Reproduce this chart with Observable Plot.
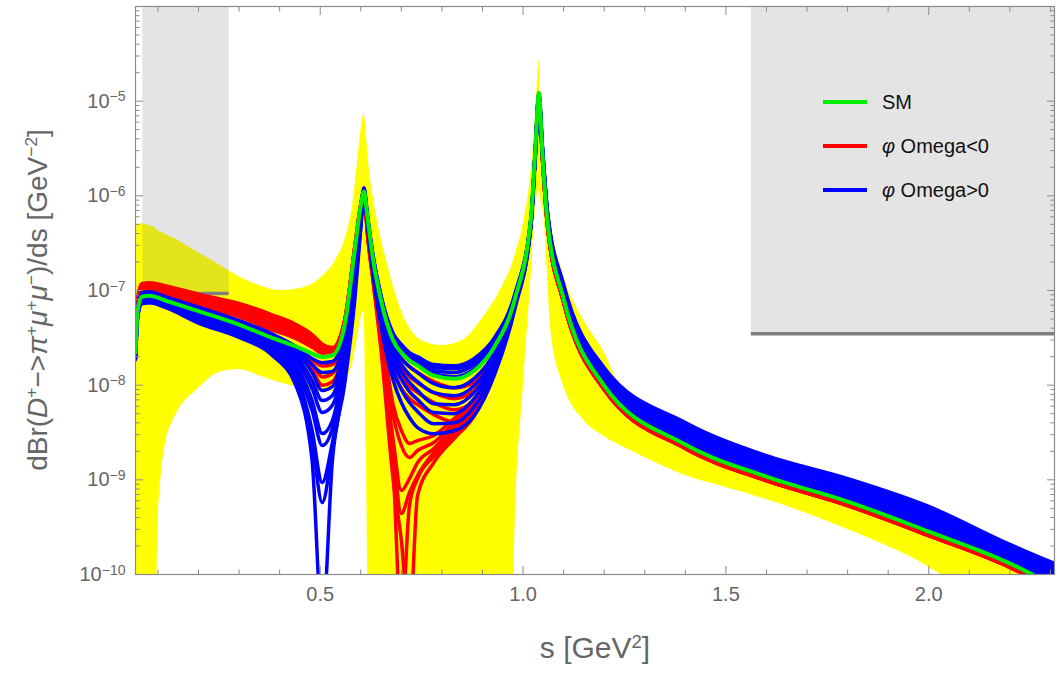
<!DOCTYPE html>
<html><head><meta charset="utf-8">
<script src="https://cdn.jsdelivr.net/npm/d3@7"></script>
<script src="https://cdn.jsdelivr.net/npm/@observablehq/plot@0.6"></script>
<style>
body{margin:0;background:#fff;}
#wrap{position:relative;width:1057px;height:673px;font-family:"Liberation Sans",Arial,sans-serif;overflow:hidden;}
.ytitle{position:absolute;left:38px;top:300px;transform:translate(-50%,-50%) rotate(-90deg);white-space:nowrap;font-size:28px;color:#666;}
.xtitle{position:absolute;left:595px;top:648px;transform:translate(-50%,-50%);white-space:nowrap;font-size:30px;color:#666;}
.ytitle sup,.xtitle sup{font-size:0.62em;vertical-align:0.55em;line-height:0;}
.legend{position:absolute;left:823px;top:0;font-size:20px;color:#111;}
.legend .row{position:absolute;left:0;white-space:nowrap;height:0;}
.legend .sw{position:absolute;left:0;top:-2px;width:44px;height:4px;}
.legend .lb{position:absolute;left:59px;top:-12px;line-height:24px;}
</style></head><body><div id="wrap"></div>
<script>
// ---- s grid for the curves (GeV^2) ----
const sGrid = [0.0447,0.05,0.06,0.08,0.12,0.2,0.3,0.38,0.44,0.48,0.505,0.53,0.56,0.585,0.6,0.608,0.616,0.63,0.65,0.68,0.70,0.72,0.74,0.78,0.83,0.88,0.93,0.98,1.02,1.03,1.039,1.048,1.06,1.1,1.2,1.4,1.6,1.8,2.0,2.2,2.31];
// SM prediction
const smValues = [2.21e-8,6.1e-8,8.6e-8,8.8e-8,7.8e-8,6.06e-8,4.37e-8,3.18e-8,2.56e-8,2.16e-8,1.98e-8,2.06e-8,4.26e-8,2.64e-7,7.89e-7,1.11e-6,6.18e-7,2.17e-7,7.8e-8,2.96e-8,2.21e-8,1.82e-8,1.61e-8,1.26e-8,1.17e-8,1.43e-8,2.56e-8,8.2e-8,6.18e-7,3.0e-6,1.23e-5,2.66e-6,5.47e-7,8.2e-8,9.9e-9,2.36e-9,1.08e-9,5.9e-10,2.84e-10,1.31e-10,7.5e-11];
// phi_Omega < 0 curves
const redCurves = [
[2.32e-8,6.4e-8,9.0e-8,9.24e-8,8.19e-8,6.36e-8,4.59e-8,3.18e-8,2.38e-8,1.87e-8,1.59e-8,1.65e-8,3.68e-8,2.46e-7,7.7e-7,1.11e-6,6.03e-7,2.12e-7,7.43e-8,2.56e-8,1.91e-8,1.57e-8,1.36e-8,1.09e-8,9.4e-9,1.07e-8,2.32e-8,8.0e-8,6.03e-7,2.93e-6,1.2e-5,2.6e-6,5.34e-7,8.0e-8,9.66e-9,2.3e-9,1.05e-9,5.76e-10,2.77e-10,1.28e-10,7.3e-11],
[2.38e-8,6.56e-8,9.25e-8,9.47e-8,8.39e-8,6.52e-8,4.7e-8,3.26e-8,2.44e-8,1.69e-8,1.22e-8,1.33e-8,3.18e-8,2.34e-7,7.51e-7,1.11e-6,5.75e-7,2.07e-7,6.91e-8,2.21e-8,1.57e-8,1.23e-8,1.06e-8,8.33e-9,7.2e-9,8.79e-9,2.11e-8,7.81e-8,5.88e-7,2.86e-6,1.17e-5,2.53e-6,5.21e-7,7.81e-8,9.42e-9,2.25e-9,1.03e-9,5.62e-10,2.7e-10,1.25e-10,7.1e-11],
[2.43e-8,6.71e-8,9.46e-8,9.68e-8,8.58e-8,6.67e-8,4.81e-8,3.34e-8,2.5e-8,1.46e-8,1.0e-8,1.09e-8,2.75e-8,2.17e-7,7.34e-7,1.11e-6,5.48e-7,1.97e-7,6.42e-8,1.82e-8,1.23e-8,9.66e-9,8.36e-9,6.54e-9,5.5e-9,6.89e-9,1.91e-8,7.63e-8,5.82e-7,2.82e-6,1.16e-5,2.5e-6,5.15e-7,7.72e-8,9.32e-9,2.22e-9,1.02e-9,5.55e-10,2.67e-10,1.23e-10,7.06e-11],
[2.43e-8,6.89e-8,9.72e-8,9.94e-8,8.81e-8,6.85e-8,5.31e-8,3.86e-8,3.11e-8,2.51e-8,2.18e-8,2.27e-8,4.47e-8,2.71e-7,7.89e-7,1.11e-6,5.21e-7,1.92e-7,5.83e-8,1.43e-8,9.22e-9,7.23e-9,6.23e-9,4.88e-9,4.1e-9,5.41e-9,1.78e-8,7.44e-8,5.75e-7,2.79e-6,1.14e-5,2.47e-6,5.09e-7,7.63e-8,9.21e-9,2.19e-9,1.0e-9,5.49e-10,2.64e-10,1.22e-10,6.98e-11],
[2.5e-8,7.08e-8,9.98e-8,1.02e-7,9.28e-8,7.21e-8,5.59e-8,4.17e-8,3.28e-8,2.62e-8,2.3e-8,2.33e-8,4.58e-8,2.71e-7,7.89e-7,1.11e-6,4.96e-7,1.74e-7,4.57e-8,6.1e-9,3.32e-9,2.42e-9,2.6e-9,2.94e-9,4.44e-9,6.88e-9,1.73e-8,7.44e-8,5.67e-7,2.75e-6,1.13e-5,2.44e-6,5.02e-7,7.53e-8,9.09e-9,2.17e-9,9.91e-10,5.42e-10,2.61e-10,1.2e-10,6.9e-11],
[2.63e-8,7.41e-8,1.04e-7,1.07e-7,9.48e-8,7.54e-8,5.86e-8,4.36e-8,3.51e-8,2.76e-8,2.36e-8,2.33e-8,4.58e-8,2.77e-7,7.89e-7,1.11e-6,4.73e-7,1.62e-7,3.95e-8,4.78e-9,2.3e-9,1.72e-9,2.04e-9,2.48e-9,4.03e-9,6.4e-9,1.69e-8,7.27e-8,5.61e-7,2.72e-6,1.12e-5,2.41e-6,4.96e-7,7.44e-8,8.98e-9,2.14e-9,9.8e-10,5.35e-10,2.58e-10,1.19e-10,6.8e-11],
[2.69e-8,7.59e-8,1.07e-7,1.1e-7,9.98e-8,7.94e-8,6.29e-8,4.71e-8,3.69e-8,2.96e-8,2.47e-8,2.39e-8,4.69e-8,2.77e-7,8.09e-7,1.11e-6,4.51e-7,1.54e-7,3.33e-8,2.6e-9,7.71e-10,1.03e-9,1.52e-9,2.14e-9,3.66e-9,5.94e-9,1.65e-8,7.27e-8,5.61e-7,2.72e-6,1.12e-5,2.41e-6,4.96e-7,7.44e-8,8.98e-9,2.14e-9,9.8e-10,5.35e-10,2.58e-10,1.19e-10,6.8e-11],
[2.75e-8,7.81e-8,1.1e-7,1.13e-7,1.05e-7,8.3e-8,6.6e-8,4.93e-8,3.87e-8,3.11e-8,2.53e-8,2.45e-8,4.69e-8,2.77e-7,8.09e-7,1.14e-6,4.29e-7,1.43e-7,2.96e-8,2.04e-9,4.41e-10,7.34e-10,1.11e-9,1.94e-9,3.32e-9,5.52e-9,1.57e-8,7.08e-8,5.61e-7,2.72e-6,1.12e-5,2.41e-6,4.96e-7,7.44e-8,8.98e-9,2.14e-9,9.8e-10,5.35e-10,2.58e-10,1.19e-10,6.8e-11],
[2.89e-8,8.17e-8,1.15e-7,1.18e-7,1.07e-7,8.73e-8,6.95e-8,5.31e-8,4.17e-8,3.26e-8,2.65e-8,2.45e-8,4.81e-8,2.84e-7,8.09e-7,1.14e-6,4.08e-7,1.33e-7,2.62e-8,1.25e-9,3e-11,5.35e-10,1.03e-9,1.76e-9,3.01e-9,5.14e-9,1.53e-8,6.91e-8,5.61e-7,2.72e-6,1.12e-5,2.41e-6,4.96e-7,7.44e-8,8.98e-9,2.14e-9,9.8e-10,5.35e-10,2.58e-10,1.19e-10,6.8e-11],
[2.96e-8,8.36e-8,1.18e-7,1.21e-7,1.12e-7,9.15e-8,7.3e-8,5.57e-8,4.38e-8,3.43e-8,2.71e-8,2.5e-8,4.81e-8,2.84e-7,8.09e-7,1.14e-6,4.08e-7,1.27e-7,2.32e-8,9.8e-10,2.29e-10,3e-11,6.83e-10,1.52e-9,2.73e-9,4.78e-9,1.5e-8,6.75e-8,5.61e-7,2.72e-6,1.12e-5,2.41e-6,4.96e-7,7.44e-8,8.98e-9,2.14e-9,9.8e-10,5.35e-10,2.58e-10,1.19e-10,6.8e-11]
];
// phi_Omega > 0 curves
const blueCurves = [
[2.43e-8,6.71e-8,9.46e-8,9.68e-8,8.58e-8,6.67e-8,4.81e-8,3.5e-8,2.56e-8,1.91e-8,1.73e-8,1.78e-8,3.77e-8,2.46e-7,7.51e-7,1.22e-6,6.49e-7,2.39e-7,8.81e-8,3.52e-8,2.69e-8,2.21e-8,2.0e-8,1.65e-8,1.6e-8,1.92e-8,3.19e-8,9.27e-8,6.18e-7,3.0e-6,1.17e-5,3.23e-6,7.0e-7,1.16e-7,1.53e-8,4.04e-9,1.8e-9,1.03e-9,5.23e-10,2.08e-10,1.31e-10],
[2.32e-8,6.4e-8,9.0e-8,9.24e-8,8.19e-8,6.36e-8,4.59e-8,3.34e-8,2.44e-8,1.65e-8,1.36e-8,1.4e-8,3.34e-8,2.23e-7,7.16e-7,1.17e-6,6.33e-7,2.33e-7,8.58e-8,3.34e-8,2.56e-8,2.11e-8,1.92e-8,1.53e-8,1.5e-8,1.78e-8,3.05e-8,9.02e-8,6.03e-7,2.93e-6,1.14e-5,3.17e-6,6.81e-7,1.1e-7,1.47e-8,3.85e-9,1.72e-9,9.62e-10,4.86e-10,1.98e-10,1.22e-10],
[2.16e-8,5.95e-8,8.39e-8,8.59e-8,7.61e-8,5.77e-8,4.16e-8,2.96e-8,2.27e-8,1.36e-8,8.77e-9,9.68e-9,2.96e-8,2.02e-7,6.82e-7,1.14e-6,6.18e-7,2.28e-7,8.19e-8,3.18e-8,2.43e-8,2.0e-8,1.77e-8,1.42e-8,1.36e-8,1.66e-8,2.89e-8,8.82e-8,6.03e-7,2.93e-6,1.12e-5,3.09e-6,6.65e-7,1.07e-7,1.4e-8,3.56e-9,1.6e-9,9.15e-10,4.52e-10,1.89e-10,1.16e-10],
[2.1e-8,5.81e-8,8.19e-8,8.38e-8,7.43e-8,5.64e-8,3.96e-8,2.82e-8,2.06e-8,1.12e-8,6.88e-9,7.79e-9,2.56e-8,1.83e-7,6.49e-7,1.14e-6,6.03e-7,2.17e-7,7.8e-8,3.03e-8,2.27e-8,1.87e-8,1.65e-8,1.32e-8,1.23e-8,1.5e-8,2.69e-8,8.41e-8,5.88e-7,2.86e-6,1.09e-5,3.01e-6,6.51e-7,1.02e-7,1.33e-8,3.4e-9,1.52e-9,8.5e-10,4.29e-10,1.79e-10,1.08e-10],
[2.06e-8,5.67e-8,8.0e-8,8.18e-8,7.25e-8,5.37e-8,3.87e-8,2.68e-8,1.87e-8,9.22e-9,5.14e-9,6.12e-9,2.21e-8,1.62e-7,6.19e-7,1.11e-6,5.88e-7,2.02e-7,7.07e-8,2.62e-8,1.91e-8,1.57e-8,1.36e-8,1.04e-8,9.4e-9,1.18e-8,2.21e-8,7.81e-8,5.75e-7,2.79e-6,1.06e-5,2.93e-6,6.35e-7,9.96e-8,1.27e-8,3.16e-9,1.45e-9,8.08e-10,4.0e-10,1.71e-10,1.03e-10],
[2.0e-8,5.53e-8,7.8e-8,7.98e-8,7.07e-8,5.24e-8,3.68e-8,2.55e-8,1.65e-8,6.89e-9,3.08e-9,4.23e-9,1.91e-8,1.44e-7,5.89e-7,1.11e-6,5.75e-7,1.92e-7,6.58e-8,2.32e-8,1.65e-8,1.29e-8,1.09e-8,8.33e-9,7.73e-9,9.92e-9,2.01e-8,7.44e-8,5.61e-7,2.72e-6,1.04e-5,2.86e-6,6.18e-7,9.51e-8,1.2e-8,3.02e-9,1.34e-9,7.55e-10,3.71e-10,1.59e-10,9.6e-11],
[1.96e-8,5.4e-8,7.62e-8,7.8e-8,6.91e-8,4.99e-8,3.6e-8,2.43e-8,1.46e-8,5.4e-9,2.3e-9,3.48e-9,1.69e-8,1.27e-7,5.61e-7,1.08e-6,5.61e-7,1.83e-7,5.97e-8,2.01e-8,1.39e-8,1.07e-8,8.77e-9,6.38e-9,6.21e-9,8.38e-9,1.82e-8,7.27e-8,5.48e-7,2.66e-6,1.01e-5,2.79e-6,5.89e-7,9.27e-8,1.15e-8,2.81e-9,1.29e-9,7.17e-10,3.45e-10,1.52e-10,9.1e-11],
[1.91e-8,5.27e-8,7.43e-8,7.6e-8,6.74e-8,4.87e-8,3.43e-8,2.32e-8,1.3e-8,3.33e-9,9.36e-10,2.48e-9,1.43e-8,1.1e-7,5.22e-7,1.08e-6,5.48e-7,1.74e-7,5.41e-8,1.73e-8,1.15e-8,8.55e-9,7.04e-9,5.13e-9,5.0e-9,7.24e-9,1.65e-8,6.91e-8,5.34e-7,2.59e-6,9.88e-6,2.73e-6,5.74e-7,8.82e-8,1.09e-8,2.67e-9,1.22e-9,6.67e-10,3.29e-10,1.44e-10,8.5e-11],
[1.88e-8,5.19e-8,7.31e-8,7.48e-8,6.63e-8,4.64e-8,3.34e-8,2.21e-8,1.15e-8,2.61e-9,5.75e-10,2.04e-9,1.23e-8,9.5e-8,4.85e-7,1.06e-6,5.34e-7,1.62e-7,4.8e-8,1.43e-8,8.99e-9,6.55e-9,5.26e-9,3.92e-9,4.01e-9,5.96e-9,1.5e-8,6.75e-8,5.21e-7,2.53e-6,9.64e-6,2.66e-6,5.61e-7,8.61e-8,1.04e-8,2.48e-9,1.13e-9,6.35e-10,3.06e-10,1.38e-10,8.07e-11],
[1.86e-8,5.14e-8,7.25e-8,7.42e-8,6.58e-8,4.53e-8,3.19e-8,2.1e-8,9.91e-9,1.6e-9,3e-11,1.6e-9,1.01e-8,7.8e-8,4.51e-7,1.06e-6,5.21e-7,1.51e-7,4.14e-8,1.12e-8,6.56e-9,4.55e-9,3.56e-9,3.07e-9,3.3e-9,4.79e-9,1.3e-8,6.43e-8,5.09e-7,2.47e-6,9.19e-6,2.66e-6,5.47e-7,8.2e-8,9.9e-9,2.36e-9,1.08e-9,5.9e-10,2.84e-10,1.31e-10,7.5e-11]
];
// uncertainty band (yellow)
const bandS = [0.0447,0.05,0.06,0.08,0.092,0.1,0.11,0.12,0.135,0.15,0.2,0.25,0.3,0.35,0.4,0.45,0.5,0.54,0.56,0.58,0.595,0.602,0.608,0.614,0.62,0.63,0.645,0.67,0.7,0.75,0.8,0.85,0.9,0.95,0.975,0.98,1.0,1.02,1.03,1.035,1.039,1.043,1.05,1.07,1.1,1.15,1.2,1.25,1.3,1.4,1.5,1.6,1.7,1.8,1.9,2.0,2.05,2.1,2.2,2.31];
const bandUpper = [4.5e-7,4.97e-7,5.08e-7,4.84e-7,4.62e-7,4.29e-7,4.09e-7,3.89e-7,3.62e-7,3.36e-7,2.51e-7,1.88e-7,1.4e-7,1.13e-7,9.97e-8,1.05e-7,1.34e-7,2.17e-7,3.36e-7,7.89e-7,3.0e-6,5.51e-6,7.38e-6,4.32e-6,2.08e-6,1.0e-6,4.5e-7,1.62e-7,6.1e-8,2.96e-8,2.62e-8,2.96e-8,5.05e-8,1.13e-7,1.97e-7,2.34e-7,4.84e-7,1.85e-6,6.22e-6,1.46e-5,2.68e-5,1.01e-5,2.35e-6,4.84e-7,1.44e-7,4.81e-8,2.21e-8,7.76e-9,5.66e-9,3.4e-9,2.3e-9,1.56e-9,1.17e-9,8.49e-10,6.04e-10,4.1e-10,3.46e-10,2.84e-10,1.88e-10,1.05e-10];
const bandLower = [1e-11,1e-11,1e-11,1e-11,1e-11,2.92e-10,1.32e-9,2.6e-9,4.03e-9,5.39e-9,9.21e-9,1.36e-8,1.46e-8,1.26e-8,1.07e-8,9.43e-9,8.56e-9,8.56e-9,1.04e-8,1.73e-8,3.77e-8,5.43e-8,6.1e-8,2.04e-9,1e-11,1e-11,1e-11,1e-11,1e-11,1e-11,1e-11,1e-11,1e-11,1e-11,1e-11,2.92e-10,8.77e-9,1.44e-7,6.98e-7,1.0e-6,1.14e-6,9.34e-7,6.65e-7,3.34e-8,9.9e-9,4.23e-9,2.87e-9,2.19e-9,1.72e-9,1.11e-9,8.3e-10,6.19e-10,4.41e-10,2.99e-10,1.98e-10,1.19e-10,8e-11,1e-11,1e-11,1e-11];
// experimental exclusion regions (grey) and their limits
const exclFrom = [0.0625, 1.5625];
const exclTo = [0.2756, 2.31];
const exclLimit = [9.3e-8, 3.5e-8];
// ticks
const xMajorTicks = [0.5, 1.0, 1.5, 2.0];
const xMinorTicks = [0.1,0.2,0.3,0.4,0.6,0.7,0.8,0.9,1.1,1.2,1.3,1.4,1.6,1.7,1.8,1.9,2.1,2.2,2.3];
const yMajorTicks = [1e-10,1e-9,1e-8,1e-7,1e-6,1e-5];
const yMinorMantissas = [2,3,4,5,6,7,8,9];
const legendItems = ["SM", "φ Omega<0", "φ Omega>0"];
const legendColors = ["#00ee00", "#ff0000", "#0000ff"];

// ---- build tables ----
const toRows = (curves) => curves.flatMap((c, k) => c.map((v, i) => ({s: sGrid[i], v, k})));
const redRows = toRows(redCurves);
const blueRows = toRows(blueCurves);
const smRows = smValues.map((v, i) => ({s: sGrid[i], v}));
const bandRows = bandS.map((s, i) => ({s, hi: bandUpper[i], lo: bandLower[i]}));
const excl = exclFrom.map((x1, i) => ({x1, x2: exclTo[i], y1: exclLimit[i], y2: 1e-4}));
const yMinorTicks = yMajorTicks.flatMap(d => yMinorMantissas.map(m => m * d)).filter(d => d < 1e-4);

const tickColor = "#8a8a8a";
const labelColor = "#666";
const lineOpts = {x: "s", y: "v", strokeWidth: 3.5, strokeLinejoin: "round", curve: "monotone-x", clip: true};
const plot = Plot.plot({
  width: 1057, height: 673,
  marginLeft: 135, marginRight: 3, marginTop: 6, marginBottom: 99,
  x: {domain: [0.0447, 2.31]},
  y: {type: "log", domain: [1e-10, 1e-4]},
  style: {fontFamily: "Liberation Sans, Arial, sans-serif", background: "transparent"},
  marks: [
    Plot.areaY(bandRows, {x: "s", y1: "lo", y2: "hi", fill: "#ffff00", curve: "monotone-x", clip: true}),
    Plot.rect(excl, {x1: "x1", x2: "x2", y1: "y1", y2: "y2", fill: "#7f7f7f", fillOpacity: 0.21, clip: true}),
    Plot.ruleY(excl, {x1: "x1", x2: "x2", y: "y1", stroke: "#808080", strokeWidth: 3.5, clip: true}),
    Plot.line(redRows, {...lineOpts, z: "k", stroke: "#ff0000"}),
    Plot.line(blueRows, {...lineOpts, z: "k", stroke: "#0000ff"}),
    Plot.line(smRows, {...lineOpts, stroke: "#00ee00", strokeWidth: 4}),
    Plot.frame({stroke: tickColor, strokeWidth: 1.2}),
    Plot.axisX(xMajorTicks, {anchor: "bottom", tickSize: -8, tickPadding: 20, stroke: tickColor, fill: labelColor, fontSize: 20, tickFormat: d3.format(".1f"), label: null}),
    Plot.axisX(xMinorTicks, {anchor: "bottom", tickSize: -4.5, text: null, stroke: tickColor, label: null}),
    Plot.axisX(xMajorTicks, {anchor: "top", tickSize: -8, text: null, stroke: tickColor, label: null}),
    Plot.axisX(xMinorTicks, {anchor: "top", tickSize: -4.5, text: null, stroke: tickColor, label: null}),
    Plot.axisY(yMajorTicks, {anchor: "left", tickSize: -8, tickPadding: 18, stroke: tickColor, fill: labelColor, fontSize: 20, tickFormat: d => "10|−" + Math.round(-Math.log10(d)), label: null}),
    Plot.axisY(yMinorTicks, {anchor: "left", tickSize: -4.5, text: null, stroke: tickColor, label: null}),
    Plot.axisY(yMajorTicks, {anchor: "right", tickSize: -8, text: null, stroke: tickColor, label: null}),
    Plot.axisY(yMinorTicks, {anchor: "right", tickSize: -4.5, text: null, stroke: tickColor, label: null})
  ]
});

// superscript exponents on the y tick labels
plot.querySelectorAll("text").forEach(t => {
  const s = t.textContent;
  if (s.includes("|")) {
    const [base, exp] = s.split("|");
    t.textContent = "";
    const ns = "http://www.w3.org/2000/svg";
    const a = document.createElementNS(ns, "tspan"); a.textContent = base;
    const b = document.createElementNS(ns, "tspan"); b.textContent = exp;
    b.setAttribute("dy", "-0.45em"); b.setAttribute("font-size", "14");
    t.appendChild(a); t.appendChild(b);
  }
});

const wrap = document.getElementById("wrap");
wrap.appendChild(plot);

const yt = document.createElement("div");
yt.className = "ytitle";
yt.innerHTML = "dBr(<i>D</i><sup>+</sup>−&gt;<i>π</i><sup>+</sup><i>μ</i><sup>+</sup><i>μ</i><sup>−</sup>)/ds [GeV<sup>−2</sup>]";
wrap.appendChild(yt);
const xt = document.createElement("div");
xt.className = "xtitle";
xt.innerHTML = "s [GeV<sup>2</sup>]";
wrap.appendChild(xt);

const lg = document.createElement("div");
lg.className = "legend";
legendItems.forEach((name, i) => {
  const row = document.createElement("div");
  row.className = "row";
  row.style.top = (102 + 44 * i) + "px";
  const sw = document.createElement("div"); sw.className = "sw"; sw.style.background = legendColors[i];
  const lb = document.createElement("div"); lb.className = "lb";
  lb.innerHTML = name.replace("φ", "<i>φ</i>");
  row.appendChild(sw); row.appendChild(lb);
  lg.appendChild(row);
});
wrap.appendChild(lg);
</script>
</body></html>
